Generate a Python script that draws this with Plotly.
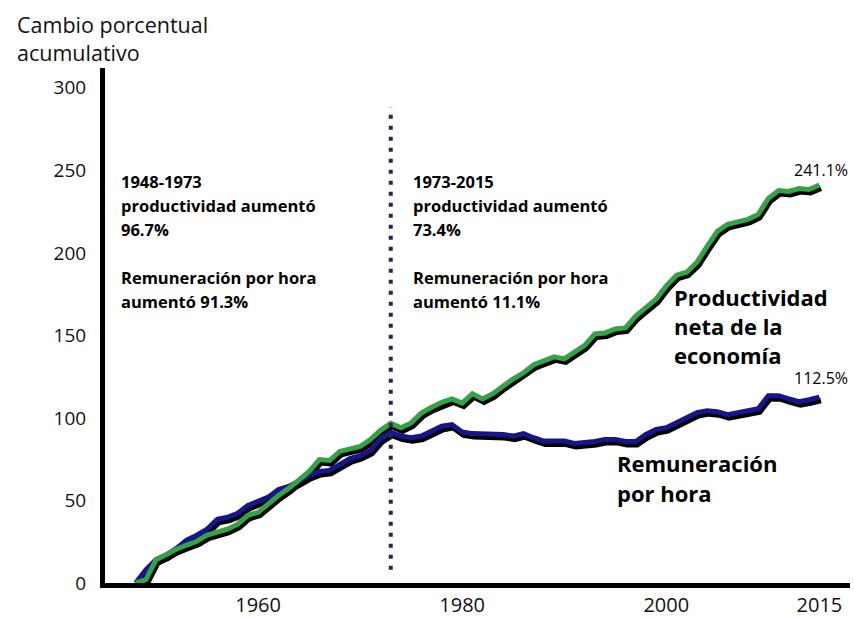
import plotly.graph_objects as go

# Cumulative percent change since 1948
years = list(range(1948, 2016))

productivity = [
    0, 2, 14, 17.5, 20.5, 23, 25.3, 29, 30.8, 32.6,
    35.6, 41, 42.8, 48.3, 53, 57.3, 62.8, 67.6, 74.8, 74.2,
    79.7, 81.5, 82.7, 86.9, 92.5, 96.7, 94, 97, 103, 106.5,
    109.5, 111.5, 109, 114.7, 111.5, 114.7, 119.5, 123.7, 127.3, 132.2,
    134.6, 137, 135.8, 140, 144, 150.9, 151.5, 153.9, 154.5, 161.7,
    166.6, 172, 180, 186.5, 188.3, 194.3, 204, 213, 217.3, 219,
    220.3, 223.3, 233, 237.8, 237.2, 239, 238.4, 241.1,
]

compensation = [
    0, 8, 14.2, 16.9, 21, 26, 29, 32.6, 38.6, 39.8,
    42.2, 47, 49.5, 52, 56.7, 58.5, 61.6, 65.2, 67.6, 68.2,
    71.8, 75.4, 77.2, 80.3, 87.5, 91.3, 89, 88, 89, 92,
    95, 96, 91.5, 90.5, 90.5, 90.5, 90, 89, 90.5, 88,
    86, 86, 86, 84.5, 85, 85.7, 87, 87, 85.7, 85.7,
    90, 93, 94.1, 97.2, 100.2, 103.2, 104.4, 103.8, 102, 103.2,
    104.4, 105.6, 113.5, 113.5, 111.6, 109.8, 111, 112.5,
]

break_year = 1973
y_ticks = [0, 50, 100, 150, 200, 250, 300]
x_ticks = [1960, 1980, 2000, 2015]
x_tick_text = ["1960", "1980", "2000", "2015"]

left_note = ["1948-1973", "productividad aumentó", "96.7%", "",
             "Remuneración por hora", "aumentó 91.3%"]
right_note = ["1973-2015", "productividad aumentó", "73.4%", "",
              "Remuneración por hora", "aumentó 11.1%"]

GREEN = "#34a346"
NAVY = "#16168c"
FONT = "Open Sans"

W, H = 854, 617
M = dict(l=105, r=4, t=68, b=34)
x_range = [1945, 2018]
y_range = [0, 312]

plot_w = W - M["l"] - M["r"]
plot_h = H - M["t"] - M["b"]
px_per_year = plot_w / (x_range[1] - x_range[0])
px_per_unit = plot_h / (y_range[1] - y_range[0])

# drop-shadow offset (pixels) -> shift of the shadow axes
sx, sy = 1.5, 3.0
dx = sx / px_per_year
dy = sy / px_per_unit

fig = go.Figure()

# shadows on the base axes
for series in (productivity, compensation):
    fig.add_trace(go.Scatter(
        x=years, y=series, mode="lines", xaxis="x", yaxis="y",
        line=dict(color="black", width=6), hoverinfo="skip", showlegend=False,
    ))

# coloured lines on the overlaid axes
fig.add_trace(go.Scatter(
    x=years, y=compensation, mode="lines", xaxis="x2", yaxis="y2",
    line=dict(color=NAVY, width=5), name="Remuneración por hora", showlegend=False,
))
fig.add_trace(go.Scatter(
    x=years, y=productivity, mode="lines", xaxis="x2", yaxis="y2",
    line=dict(color=GREEN, width=5), name="Productividad neta de la economía",
    showlegend=False,
))

# 1973 divider
fig.add_trace(go.Scatter(
    x=[break_year, break_year], y=[8, 288], mode="lines", xaxis="x2", yaxis="y2",
    line=dict(color="#1d2a4c", width=4, dash="4px,7px"), hoverinfo="skip",
    showlegend=False,
))

fig.update_layout(
    template="none",
    width=W, height=H, margin=M,
    paper_bgcolor="white", plot_bgcolor="white",
    font=dict(family=FONT, color="black"),
    xaxis=dict(range=[x_range[0] - dx, x_range[1] - dx], visible=False, automargin=False),
    yaxis=dict(range=[y_range[0] + dy, y_range[1] + dy], visible=False, automargin=False),
    xaxis2=dict(
        range=x_range, overlaying="x", anchor="y2", side="bottom", automargin=False,
        tickvals=x_ticks, ticktext=x_tick_text,
        tickfont=dict(family=FONT, size=20, color="#111111"),
        showgrid=False, zeroline=False, showline=True, linecolor="black", linewidth=5,
        ticks="", ticklabelstandoff=0,
    ),
    yaxis2=dict(
        range=y_range, overlaying="y", anchor="x2", side="left", automargin=False,
        tickvals=y_ticks, tickfont=dict(family=FONT, size=19, color="#111111"),
        showgrid=False, zeroline=False, showline=True, linecolor="black", linewidth=5,
        ticks="", ticklabelstandoff=10,
    ),
)


def add_block(lines, x, y, size, step):
    """Left-aligned bold text block, one annotation per line."""
    for i, line in enumerate(lines):
        if not line:
            continue
        fig.add_annotation(text=f"<b>{line}</b>", xref="x2", yref="y2", x=x, y=y,
                           xanchor="left", yanchor="middle", yshift=-i * step,
                           showarrow=False, font=dict(family=FONT, size=size, color="black"))


add_block(left_note, 1946.4, 243, 16.5, 24)
add_block(right_note, 1975.0, 243, 16.5, 24)

add_block(["Productividad", "neta de la", "economía"], 2000.6, 173.5, 22, 29)
add_block(["Remuneración", "por hora"], 1995.0, 72.5, 22, 30)

fig.add_annotation(text=f"{productivity[-1]:.1f}%", xref="x2", yref="y2",
                   x=years[-1] + 0.2, y=productivity[-1], xanchor="center", yanchor="bottom",
                   yshift=2, showarrow=False, font=dict(family=FONT, size=16))
fig.add_annotation(text=f"{compensation[-1]:.1f}%", xref="x2", yref="y2",
                   x=years[-1] + 0.2, y=compensation[-1], xanchor="center", yanchor="bottom",
                   yshift=6, showarrow=False, font=dict(family=FONT, size=16))

fig.add_annotation(text="Cambio porcentual<br>acumulativo",
                   xref="paper", yref="paper",
                   x=(15 - M["l"]) / plot_w, y=1 + (M["t"] - 8) / plot_h,
                   xanchor="left", yanchor="top", align="left", showarrow=False,
                   font=dict(family=FONT, size=21.5, color="#111111"))

fig.write_html("out.html")
